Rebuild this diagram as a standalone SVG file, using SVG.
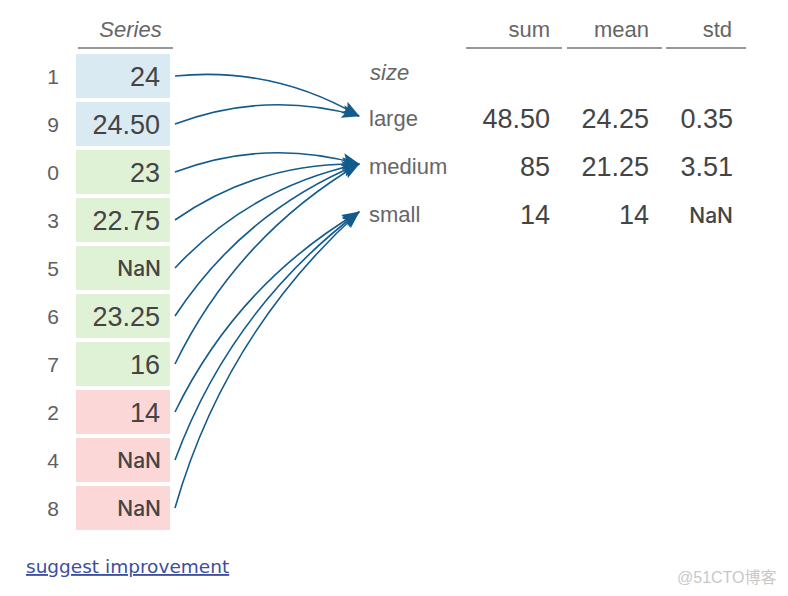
<svg xmlns="http://www.w3.org/2000/svg" width="788" height="596" viewBox="0 0 788 596">
<style>
.bg{fill:#ffffff}
.idx{font-family:"Liberation Sans",Arial,sans-serif;font-size:21px;fill:#5f5f5f;text-anchor:middle}
.val{font-family:"Liberation Sans",Arial,sans-serif;font-size:27px;fill:#444;text-anchor:end}
.nan{font-family:Inter,"Liberation Sans",Arial,sans-serif;font-weight:500;font-size:21px;fill:#444;text-anchor:end}
.lbl{font-family:"Liberation Sans",Arial,sans-serif;font-size:22px;fill:#666}
.hdr{font-family:"Liberation Sans",Arial,sans-serif;font-size:22px;fill:#666;text-anchor:end}
.it{font-style:italic}
.rule{stroke:#999;stroke-width:2}
.blue{fill:#daeaf3}
.green{fill:#e0f2d6}
.pink{fill:#fcd7d8}
.conn path{fill:none;stroke:#125b8c;stroke-width:1.6;marker-end:url(#ah)}
.link{font-family:"DejaVu Sans",Verdana,sans-serif;font-size:18.5px;fill:#3b4ea0;text-decoration:underline}
.wm{font-family:"Liberation Sans","Noto Sans CJK SC",sans-serif;font-size:16px;fill:#c8c8c8}
</style>
<defs>
<marker id="ah" markerUnits="userSpaceOnUse" markerWidth="18" markerHeight="14" viewBox="0 0 18 14" refX="17" refY="7" orient="auto">
<path d="M0,0.5 L18,7 L0,13.5 L3.5,7 z" fill="#125b8c"/>
</marker>
</defs>
<rect class="bg" x="0" y="0" width="788" height="596"/>

<g id="series-header">
<text class="lbl it" x="130.5" y="37" text-anchor="middle">Series</text>
<line class="rule" x1="78" y1="48" x2="173" y2="48"/>
</g>

<g id="row-1"><rect class="blue" x="76" y="54" width="94" height="44"/><text class="idx" x="53" y="84">1</text><text class="val" x="160" y="86">24</text></g>
<g id="row-9"><rect class="blue" x="76" y="102" width="94" height="44"/><text class="idx" x="53" y="132">9</text><text class="val" x="160" y="134">24.50</text></g>
<g id="row-0"><rect class="green" x="76" y="150" width="94" height="44"/><text class="idx" x="53" y="180">0</text><text class="val" x="160" y="182">23</text></g>
<g id="row-3"><rect class="green" x="76" y="198" width="94" height="44"/><text class="idx" x="53" y="228">3</text><text class="val" x="160" y="230">22.75</text></g>
<g id="row-5"><rect class="green" x="76" y="246" width="94" height="44"/><text class="idx" x="53" y="276">5</text><text class="nan" x="161" y="276">NaN</text></g>
<g id="row-6"><rect class="green" x="76" y="294" width="94" height="44"/><text class="idx" x="53" y="324">6</text><text class="val" x="160" y="326">23.25</text></g>
<g id="row-7"><rect class="green" x="76" y="342" width="94" height="44"/><text class="idx" x="53" y="372">7</text><text class="val" x="160" y="374">16</text></g>
<g id="row-2"><rect class="pink" x="76" y="390" width="94" height="44"/><text class="idx" x="53" y="420">2</text><text class="val" x="160" y="422">14</text></g>
<g id="row-4"><rect class="pink" x="76" y="438" width="94" height="44"/><text class="idx" x="53" y="468">4</text><text class="nan" x="161" y="468">NaN</text></g>
<g id="row-8"><rect class="pink" x="76" y="486" width="94" height="44"/><text class="idx" x="53" y="516">8</text><text class="nan" x="161" y="516">NaN</text></g>

<g id="result-header">
<text class="hdr" x="550" y="37">sum</text>
<text class="hdr" x="649" y="37">mean</text>
<text class="hdr" x="732" y="37">std</text>
<line class="rule" x1="466" y1="48" x2="562" y2="48"/>
<line class="rule" x1="567" y1="48" x2="662" y2="48"/>
<line class="rule" x1="666" y1="48" x2="746" y2="48"/>
<text class="lbl it" x="370" y="80">size</text>
</g>

<g id="large">
<text class="lbl" x="369" y="126">large</text>
<text class="val" x="550" y="128">48.50</text>
<text class="val" x="649" y="128">24.25</text>
<text class="val" x="733" y="128">0.35</text>
</g>
<g id="medium">
<text class="lbl" x="369" y="174">medium</text>
<text class="val" x="550" y="176">85</text>
<text class="val" x="649" y="176">21.25</text>
<text class="val" x="733" y="176">3.51</text>
</g>
<g id="small">
<text class="lbl" x="369" y="222">small</text>
<text class="val" x="550" y="224">14</text>
<text class="val" x="649" y="224">14</text>
<text class="nan" x="733" y="223">NaN</text>
</g>

<g id="connectors" class="conn">
<path d="M175,76 Q273.5,66.1 359,116"/>
<path d="M175,124 Q265.7,89.9 359,116"/>
<path d="M175,172 Q265.7,137.9 359,164"/>
<path d="M175,220 Q258,162.2 359,164"/>
<path d="M175,268 Q250.6,186.9 359,164"/>
<path d="M175,316 Q243.7,211.8 359,164"/>
<path d="M175,364 Q237.1,236.5 359,164"/>
<path d="M175,412 Q237.1,284.5 359,212"/>
<path d="M175,460 Q230.8,309.1 359,212"/>
<path d="M175,508 Q224.7,333.7 359,212"/>
</g>

<g id="footer">
<text class="link" x="26" y="573">suggest improvement</text>
<text class="wm" x="677" y="583">@51CTO博客</text>
</g>
</svg>
